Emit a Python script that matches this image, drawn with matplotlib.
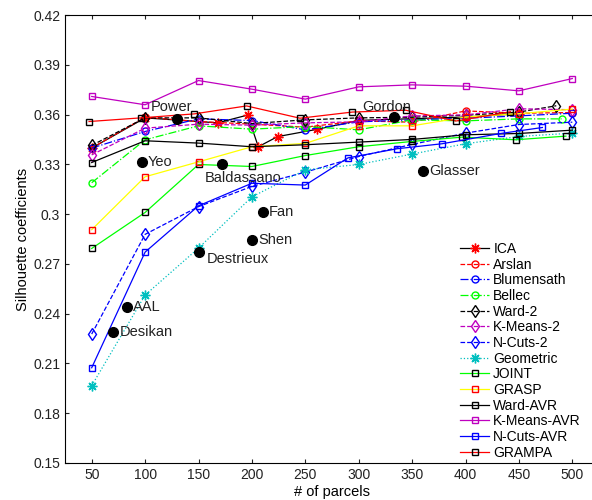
import numpy as np
import matplotlib
matplotlib.use("Agg")
import matplotlib.pyplot as plt

plt.rcParams['font.family'] = ['Liberation Sans', 'DejaVu Sans']
plt.rcParams['font.size'] = 10

parcels = [50, 100, 150, 200, 250, 300, 350, 400, 450, 500]

# ---- series (x, y) ----
ica_x = [50, 100, 168, 196, 206, 224, 261, 300, 350, 400, 450]
ica_y = [0.3398, 0.3580, 0.3550, 0.3597, 0.3406, 0.3467, 0.3511, 0.3565, 0.3575, 0.3585, 0.3605]

arslan_y = [0.3398, 0.3584, 0.3558, 0.3542, 0.3524, 0.3562, 0.3554, 0.3622, 0.3608, 0.3612]
blumensath_y = [0.3398, 0.3498, 0.3574, 0.3564, 0.3508, 0.3556, 0.3568, 0.3578, 0.3592, 0.3608]

bellec_x = [50, 100, 150, 200, 250, 300, 350, 400, 450, 490]
bellec_y = [0.3189, 0.3448, 0.3532, 0.3512, 0.3528, 0.3508, 0.3568, 0.3562, 0.3574, 0.3574]

ward2_x = [50, 100, 150, 200, 250, 300, 350, 400, 450, 485]
ward2_y = [0.3414, 0.3580, 0.3580, 0.3546, 0.3568, 0.3580, 0.3584, 0.3596, 0.3615, 0.3653]

kmeans2_y = [0.3357, 0.3518, 0.3542, 0.3536, 0.3550, 0.3556, 0.3592, 0.3598, 0.3635, 0.3629]
ncuts2_y = [0.2277, 0.2878, 0.3045, 0.3167, 0.3253, 0.3347, 0.3420, 0.3488, 0.3540, 0.3554]
geometric_y = [0.1966, 0.2512, 0.2795, 0.3104, 0.3267, 0.3299, 0.3362, 0.3424, 0.3468, 0.3488]

joint_x = [50, 100, 150, 200, 250, 300, 350, 397, 447, 494]
joint_y = [0.2793, 0.3010, 0.3299, 0.3287, 0.3353, 0.3406, 0.3438, 0.3464, 0.3448, 0.3470]

grasp_y = [0.2906, 0.3225, 0.3315, 0.3406, 0.3426, 0.3532, 0.3532, 0.3585, 0.3605, 0.3633]
wardavr_y = [0.3311, 0.3442, 0.3428, 0.3406, 0.3418, 0.3434, 0.3450, 0.3478, 0.3486, 0.3506]
kmeansavr_y = [0.3709, 0.3659, 0.3805, 0.3753, 0.3693, 0.3767, 0.3779, 0.3771, 0.3743, 0.3817]

ncutsavr_x = [50, 100, 150, 200, 250, 290, 336, 378, 433, 472]
ncutsavr_y = [0.2074, 0.2771, 0.3050, 0.3186, 0.3175, 0.3339, 0.3394, 0.3424, 0.3486, 0.3522]

grampa_x = [47.5, 96, 146, 195, 245, 294, 344, 391, 442]
grampa_y = [0.3558, 0.3580, 0.3604, 0.3652, 0.3578, 0.3615, 0.3626, 0.3561, 0.3617]

# ---- atlases ----
atlas_names = ['Power', 'Yeo', 'Baldassano', 'Gordon', 'Glasser', 'Fan', 'Shen',
               'Destrieux', 'AAL', 'Desikan']
atlas_x = [130, 97, 172, 333, 360, 210, 200, 150, 83, 70]
atlas_y = [0.3576, 0.3315, 0.3301, 0.3588, 0.3259, 0.3010, 0.2845, 0.2771, 0.2440, 0.2289]
# label anchor (x, y)
label_pos = [(105, 0.3645), (102, 0.3315), (156, 0.3218),
             (303, 0.3645), (366, 0.3259), (216, 0.3010),
             (206, 0.2845), (158, 0.2728), (89, 0.2440),
             (76, 0.2289)]

star = (8, 2, 0)
fig = plt.figure(figsize=(5.92, 5.0), dpi=100)
ax = fig.add_axes([65 / 592, 37 / 500, 534 / 592, 448 / 500])

ms = 5
lw = 0.9
ax.plot(ica_x, ica_y, '-', color='k', lw=lw, marker=star, mec='r', ms=7, label='ICA')
ax.plot(parcels, arslan_y, '--', color='r', lw=lw, marker='o', mfc='none', mec='r', ms=ms, label='Arslan')
ax.plot(parcels, blumensath_y, '-.', color='b', lw=lw, marker='o', mfc='none', mec='b', ms=ms, label='Blumensath')
ax.plot(bellec_x, bellec_y, '-.', color=(0, 1, 0), lw=lw, marker='o', mfc='none', mec=(0, 1, 0), ms=ms, label='Bellec')
ax.plot(ward2_x, ward2_y, '--', color='k', lw=lw, marker='d', mfc='none', mec='k', ms=ms + 1, label='Ward-2')
ax.plot(parcels, kmeans2_y, '--', color='m', lw=lw, marker='d', mfc='none', mec='m', ms=ms + 1, label='K-Means-2')
ax.plot(parcels, ncuts2_y, '--', color='b', lw=lw, marker='d', mfc='none', mec='b', ms=ms + 1, label='N-Cuts-2')
ax.plot(parcels, geometric_y, ':', color='c', lw=lw, marker=star, mec='c', ms=7, label='Geometric')
ax.plot(joint_x, joint_y, '-', color=(0, 1, 0), lw=lw, marker='s', mfc='none', mec='k', ms=ms, label='JOINT')
ax.plot(parcels, grasp_y, '-', color=(1, 1, 0), lw=lw, marker='s', mfc='none', mec='r', ms=ms, label='GRASP')
ax.plot(parcels, wardavr_y, '-', color='k', lw=lw, marker='s', mfc='none', mec='k', ms=ms, label='Ward-AVR')
ax.plot(parcels, kmeansavr_y, '-', color='m', lw=lw, marker='s', mfc='none', mec='m', ms=ms, label='K-Means-AVR')
ax.plot(ncutsavr_x, ncutsavr_y, '-', color='b', lw=lw, marker='s', mfc='none', mec='b', ms=ms, label='N-Cuts-AVR')
ax.plot(grampa_x, grampa_y, '-', color='r', lw=lw, marker='s', mfc='none', mec='k', ms=ms, label='GRAMPA')

ax.plot(atlas_x, atlas_y, 'o', color='k', ms=7, ls='none')
for name, (tx, ty) in zip(atlas_names, label_pos):
    ax.text(tx, ty, name, ha='left', va='center', fontsize=10.5, color='#222222')

ax.set_xlim(25, 525)
ax.set_ylim(0.15, 0.42)
ax.set_xticks(parcels)
yticks = [0.15, 0.18, 0.21, 0.24, 0.27, 0.30, 0.33, 0.36, 0.39, 0.42]
ax.set_yticks(yticks)
ax.set_yticklabels(['%g' % v for v in yticks])
ax.tick_params(direction='in', top=True, right=True, length=3, labelsize=10, colors='#222222')
ax.set_xlabel('# of parcels', fontsize=10.5, labelpad=2)
ax.set_ylabel('Silhouette coefficients', fontsize=10.5, labelpad=2)

ax.legend(loc='upper left', bbox_to_anchor=(453 / 592, 1 - 235 / 500),
          bbox_transform=fig.transFigure, frameon=False, fontsize=10,
          handlelength=2.1, handletextpad=0.3, labelspacing=0.12, borderpad=0)

fig.savefig('out.png', dpi=100)
